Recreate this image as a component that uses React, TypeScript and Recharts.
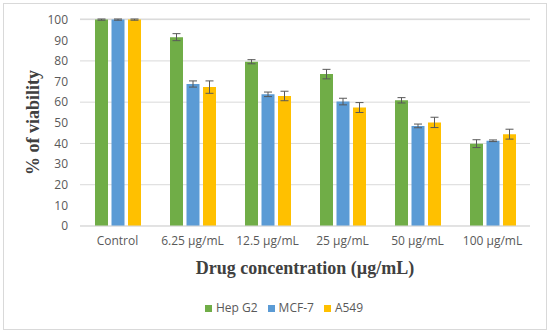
import { BarChart, Bar, XAxis, YAxis, CartesianGrid, Legend, ErrorBar } from 'recharts';

const categories = ['Control', '6.25 µg/mL', '12.5 µg/mL', '25 µg/mL', '50 µg/mL', '100 µg/mL'];
const seriesNames = ['Hep G2', 'MCF-7', 'A549'];
const hepG2 = [100, 91.5, 79.6, 73.6, 60.9, 39.9];
const hepG2Err = [0.3, 1.7, 1.0, 2.3, 1.3, 1.9];
const mcf7 = [100, 68.8, 63.8, 60.3, 48.5, 41.3];
const mcf7Err = [0.3, 1.5, 1.1, 1.6, 0.9, 0.4];
const a549 = [100, 67.3, 63.0, 57.4, 50.2, 44.5];
const a549Err = [0.3, 3.0, 2.3, 2.4, 2.5, 2.4];
const yTicks = [0, 10, 20, 30, 40, 50, 60, 70, 80, 90, 100];

const data = categories.map((name, i) => ({
  name,
  hep: hepG2[i],
  hepErr: hepG2Err[i],
  mcf: mcf7[i],
  mcfErr: mcf7Err[i],
  a549: a549[i],
  a549Err: a549Err[i],
}));

const tickStyle = { fill: '#595959', fontSize: 12, fontFamily: '"Open Sans", sans-serif' };
const titleStyle = { fill: '#404040', fontSize: 18, fontWeight: 'bold', fontFamily: '"Liberation Serif", "Times New Roman", serif' };

function YTitle(props: any) {
  const vb = props.viewBox;
  const cx = vb.x + 33;
  const cy = vb.y + vb.height / 2;
  return (
    <text x={cx} y={cy} transform={`rotate(-90, ${cx}, ${cy})`} textAnchor="middle" dominantBaseline="central" style={titleStyle}>
      % of viability
    </text>
  );
}

function XTitle(props: any) {
  const vb = props.viewBox;
  const cx = vb.x + vb.width / 2;
  const cy = vb.y + 42;
  return (
    <text x={cx} y={cy} textAnchor="middle" dominantBaseline="central" style={titleStyle}>
      Drug concentration (µg/mL)
    </text>
  );
}

export default function App() {
  return (
    <div style={{ position: 'absolute', left: 0, top: 0, width: 550, height: 333, background: '#fff' }}>
      <div style={{ position: 'absolute', left: 3, top: 3, width: 542, height: 325, border: '1px solid #D9D9D9' }} />
      <BarChart
        width={550}
        height={333}
        data={data}
        margin={{ top: 19, right: 20, bottom: 17, left: 0 }}
        barSize={13}
        barGap={3.5}
      >
        <CartesianGrid vertical={false} stroke="#D9D9D9" />
        <XAxis
          dataKey="name"
          height={73}
          tickLine={false}
          axisLine={{ stroke: '#D9D9D9' }}
          tick={tickStyle}
          tickMargin={4}
          interval={0}
          label={<XTitle />}
        />
        <YAxis
          width={80}
          domain={[0, 100]}
          ticks={yTicks}
          axisLine={false}
          tickLine={false}
          tick={tickStyle}
          tickMargin={6}
          label={<YTitle />}
        />
        <Legend
          verticalAlign="bottom"
          align="center"
          iconType="square"
          iconSize={7}
          itemSorter={(item: any) => seriesNames.indexOf(item.value)}
          wrapperStyle={{ fontSize: 12, fontFamily: '"Open Sans", sans-serif', color: '#595959', paddingLeft: 24 }}
          formatter={(value: string) => <span style={{ color: '#595959' }}>{value}</span>}
        />
        <Bar dataKey="hep" name="Hep G2" fill="#70AD47" isAnimationActive={false}>
          <ErrorBar dataKey="hepErr" width={4} stroke="#595959" strokeWidth={1} />
        </Bar>
        <Bar dataKey="mcf" name="MCF-7" fill="#5B9BD5" isAnimationActive={false}>
          <ErrorBar dataKey="mcfErr" width={4} stroke="#595959" strokeWidth={1} />
        </Bar>
        <Bar dataKey="a549" name="A549" fill="#FFC000" isAnimationActive={false}>
          <ErrorBar dataKey="a549Err" width={4} stroke="#595959" strokeWidth={1} />
        </Bar>
      </BarChart>
    </div>
  );
}
